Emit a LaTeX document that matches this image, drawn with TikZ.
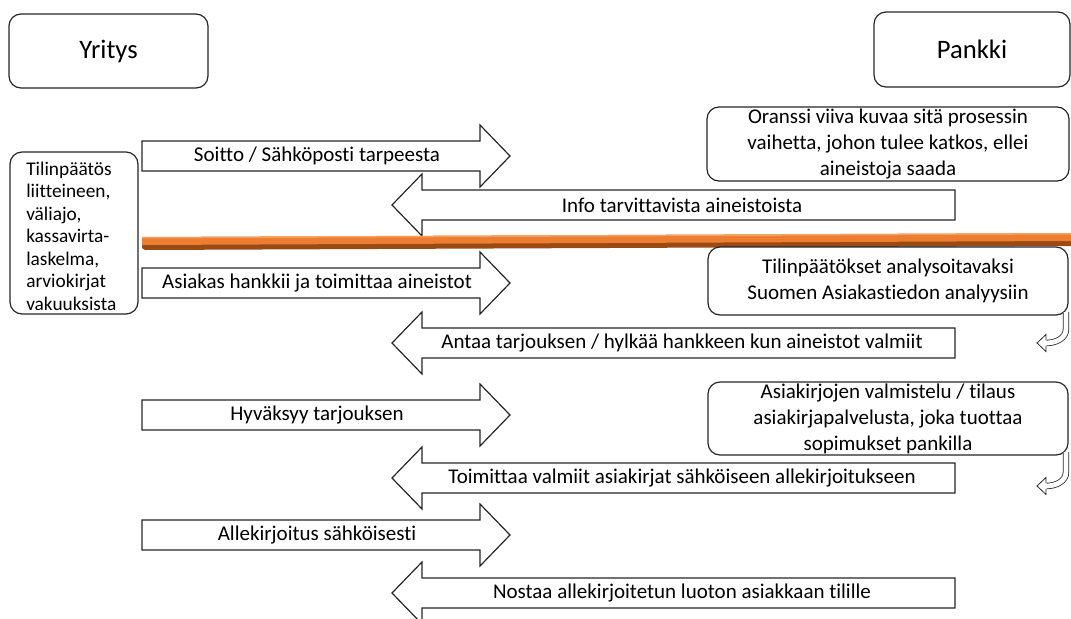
\documentclass[tikz,border=0pt]{standalone}
\usepackage{fontspec}
\setmainfont[Ligatures={NoCommon}]{Carlito}
\definecolor{barTop}{HTML}{ED7D31}
\definecolor{barLight}{HTML}{F4A060}
\definecolor{barDark}{HTML}{9A4A14}
\definecolor{lineCol}{HTML}{262626}
\newcommand\myRarrow[3]{%
  \draw[blk] (142,#2-15) -- (480,#2-15) -- (480,#2-31) -- (510,#2) -- (480,#2+31) -- (480,#2+15) -- (142,#2+15) -- cycle;
  \node[lbl] (#1) at (317,#2) {#3};}
\newcommand\myLarrow[3]{%
  \draw[blk] (955,#2-15) -- (422,#2-15) -- (422,#2-31) -- (392,#2) -- (422,#2+31) -- (422,#2+15) -- (955,#2+15) -- cycle;
  \node[lbl] (#1) at (682,#2) {#3};}
\newcommand\myUturn[3]{%
  \coordinate (#1s) at (1066,#2);
  \coordinate (#1e) at (1046,#3);
  \draw[line width=0.6pt, draw=lineCol, double=white, double distance=3.6pt] (#1s) -- (1066,#3-14) to[out=-90,in=0] (#1e);
  \fill[white] (1046.5,#3-8) -- (1037,#3) -- (1046.5,#3+8) -- cycle;
  \draw[line width=0.6pt, draw=lineCol, line join=miter] (1046,#3-2.8) -- (1046,#3-8.5) -- (1037,#3) -- (1046,#3+8.5) -- (1046,#3+2.8);}
\begin{document}
\begin{tikzpicture}[x=0.75pt,y=-0.75pt,
  rbox/.style={draw=lineCol, line width=0.9pt, rounded corners=9pt, fill=white, inner sep=0pt, align=center, font=\fontsize{15.75}{19.5}\selectfont},
  blk/.style={draw=lineCol, line width=0.9pt, fill=white, line join=miter},
  lbl/.style={font=\fontsize{15.75}{19.5}\selectfont, inner sep=0pt, align=center}]
\useasboundingbox (0,0) rectangle (1071,618);

% header boxes
\node[rbox, minimum width=149.25pt, minimum height=55.5pt, font=\fontsize{20}{24}\selectfont] (yritys) at (108.5,51) {Yritys};
\node[rbox, minimum width=147pt, minimum height=56.25pt, font=\fontsize{20}{24}\selectfont] (pankki) at (972,49.5) {Pankki};

% left box
\node[rbox, minimum width=96pt, minimum height=121.5pt] (aineisto) at (74,233) {};
\node[lbl, anchor=west, align=left, font=\fontsize{14.5}{16.9}\selectfont] (aineistoteksti) at (26,236)
  {Tilinpäätös\\liitteineen,\\väliajo,\\kassavirta-\\laskelma,\\arviokirjat\\vakuuksista};

% arrows
\myRarrow{a1}{156}{Soitto / Sähköposti tarpeesta}
\myLarrow{a2}{205}{Info tarvittavista aineistoista}

% orange bar
\fill[barDark] (142,244) -- (1071,240) -- (1071,246) -- (145,250) -- (142,248) -- cycle;
\fill[barTop] (142,237) -- (1071,233) -- (1071,241) -- (142,245) -- cycle;
\fill[barLight] (142,237) -- (1071,233) -- (1071,234.5) -- (142,238.5) -- cycle;

\myRarrow{a3}{283}{Asiakas hankkii ja toimittaa aineistot}
\myLarrow{a4}{343}{Antaa tarjouksen / hylkää hankkeen kun aineistot valmiit}
\myRarrow{a5}{415}{Hyväksyy tarjouksen}
\myLarrow{a6}{478}{Toimittaa valmiit asiakirjat sähköiseen allekirjoitukseen}
\myRarrow{a7}{535}{Allekirjoitus sähköisesti}
\myLarrow{a8}{593}{Nostaa allekirjoitetun luoton asiakkaan tilille}

% right boxes
\node[rbox, minimum width=271.5pt, minimum height=55.5pt] (oranssi) at (888,144)
  {Oranssi viiva kuvaa sitä prosessin\\vaihetta, johon tulee katkos, ellei\\aineistoja saada};
\node[rbox, minimum width=270pt, minimum height=51pt] (analyysi) at (888,281)
  {Tilinpäätökset analysoitavaksi\\Suomen Asiakastiedon analyysiin};
\node[rbox, minimum width=270pt, minimum height=54.75pt] (asiakirja) at (888,418.5)
  {Asiakirjojen valmistelu / tilaus\\asiakirjapalvelusta, joka tuottaa\\sopimukset pankilla};

% u-turn arrows
\myUturn{u1}{312}{343}
\myUturn{u2}{452}{486}
\end{tikzpicture}
\end{document}
